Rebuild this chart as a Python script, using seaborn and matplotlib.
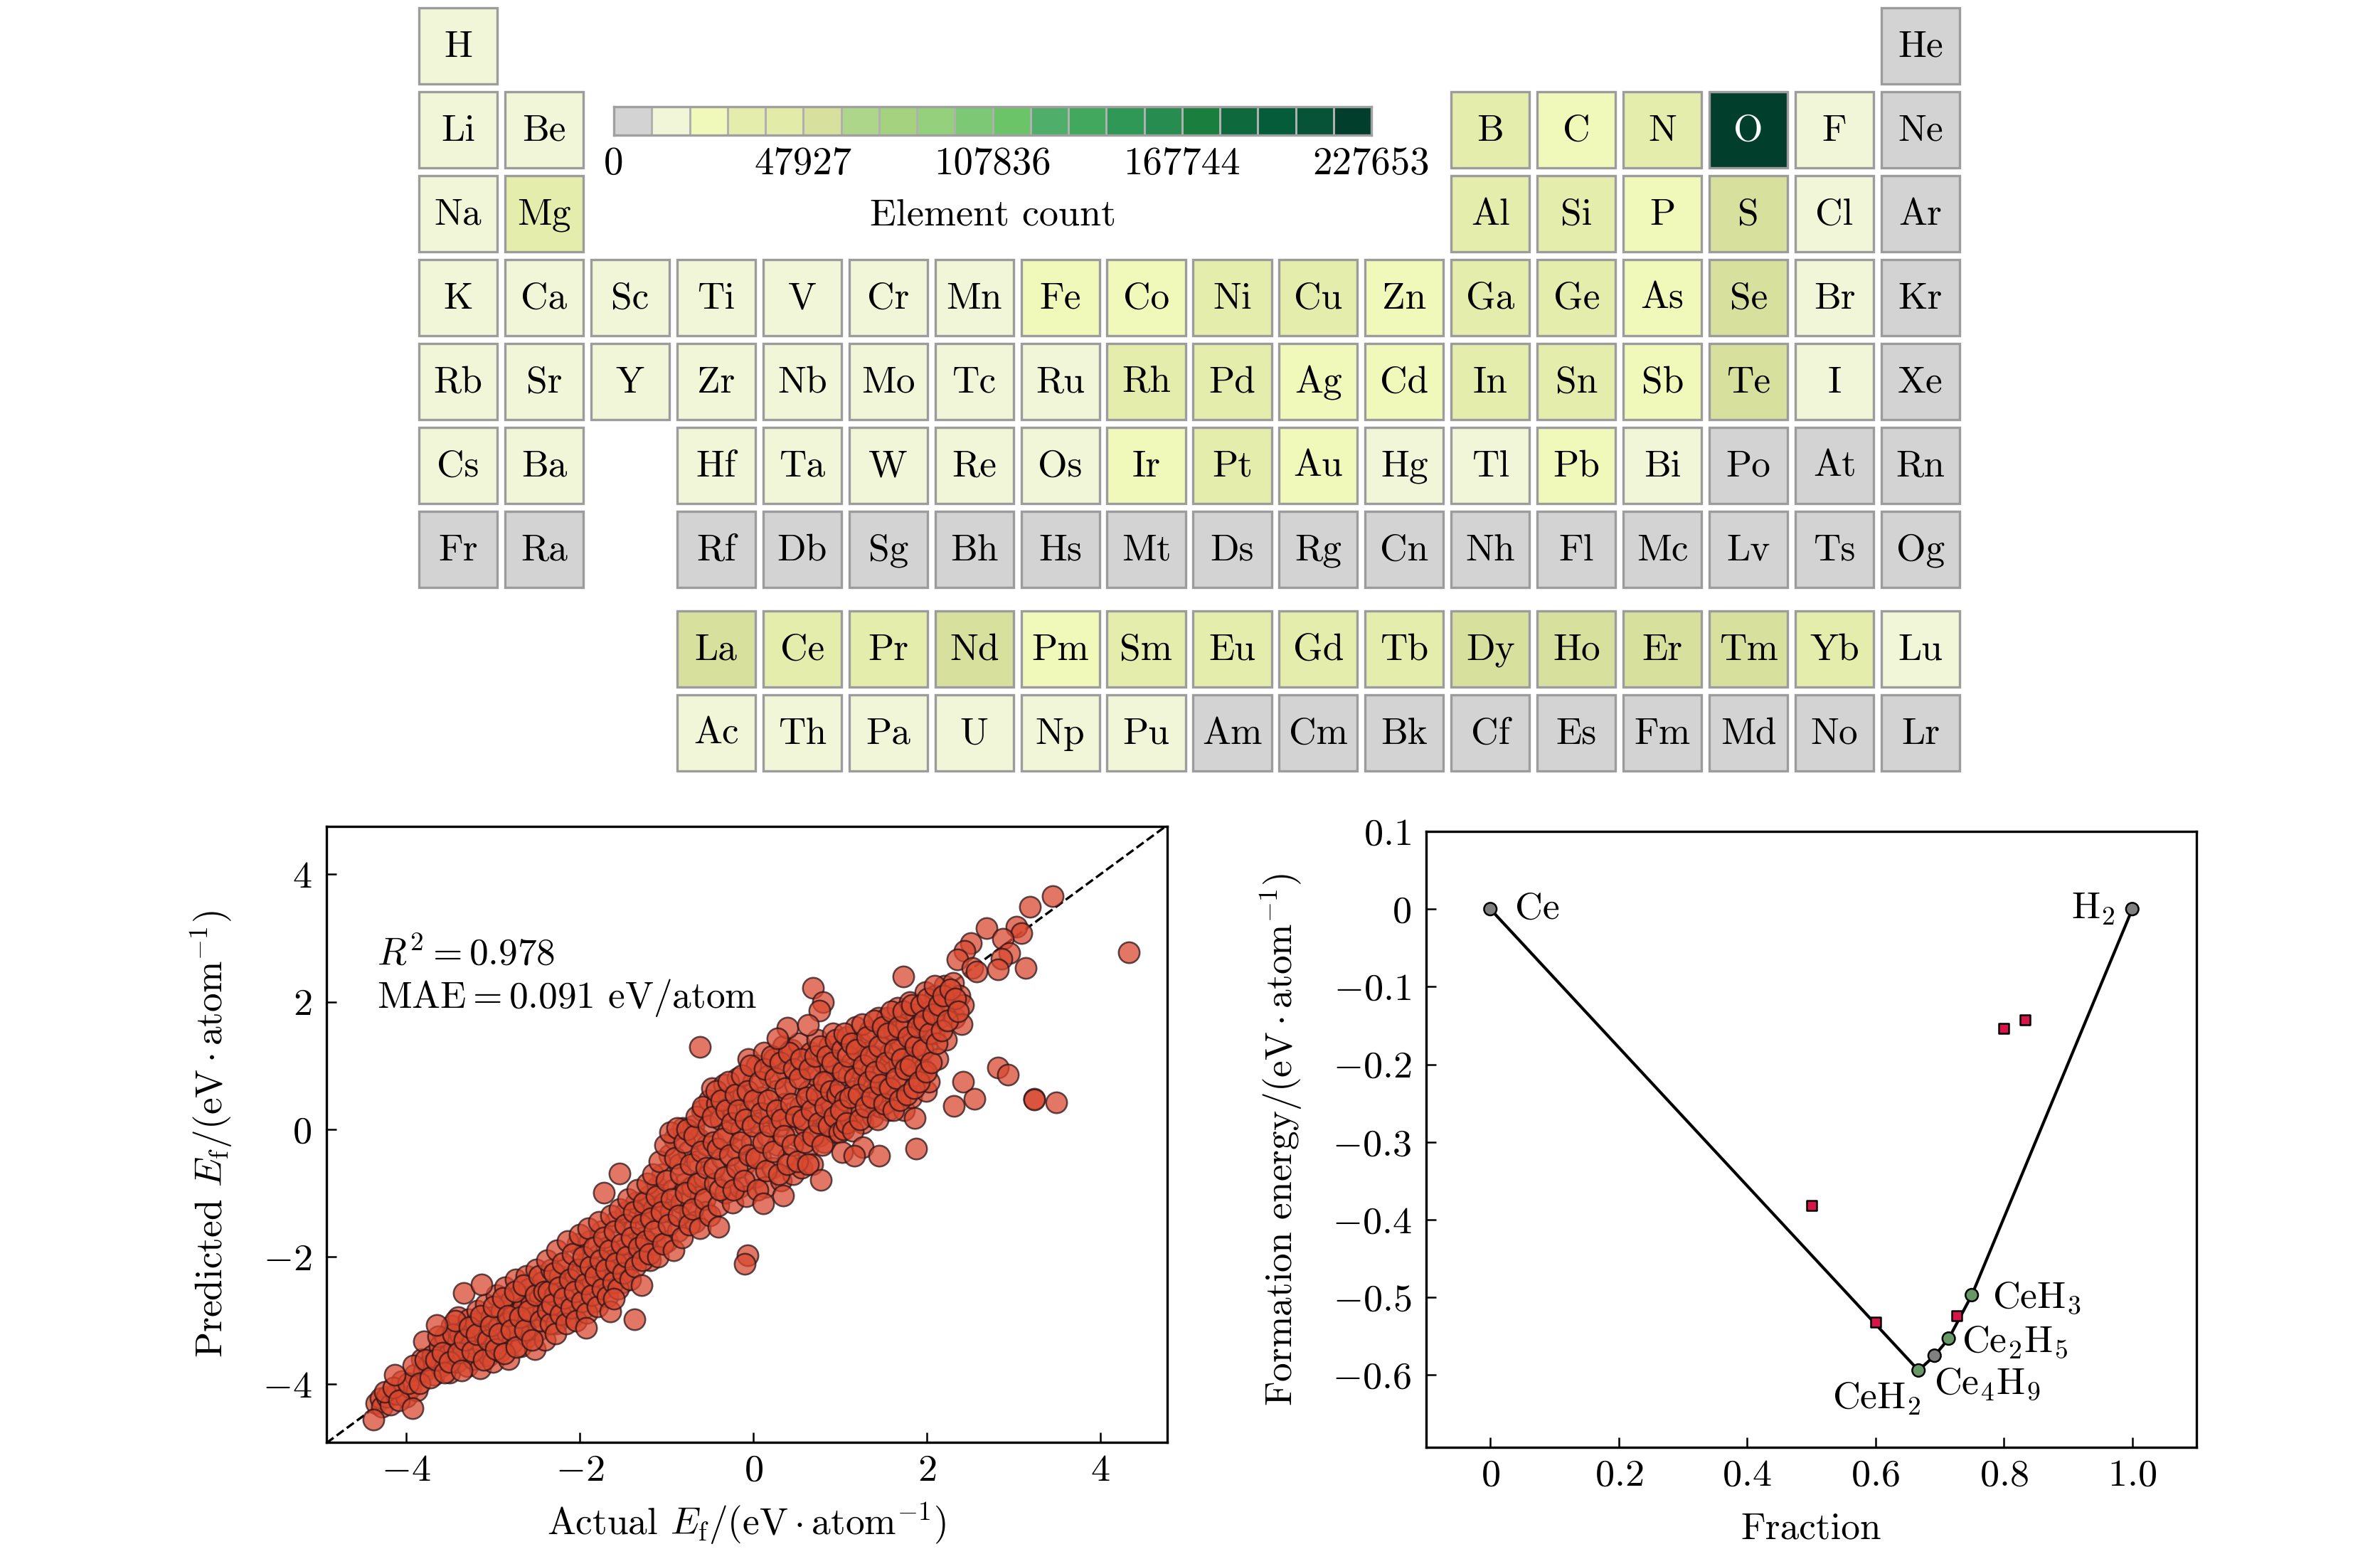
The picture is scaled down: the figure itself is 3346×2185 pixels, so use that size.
import numpy as np
import pandas as pd
import seaborn as sns
import matplotlib
matplotlib.use('Agg')
import matplotlib.pyplot as plt
from matplotlib.colors import ListedColormap, BoundaryNorm
from matplotlib.patches import Rectangle

W, H = 3346, 2185

# periodic table
symbols_main = [
    ['H', '', '', '', '', '', '', '', '', '', '', '', '', '', '', '', '', 'He'],
    ['Li', 'Be', '', '', '', '', '', '', '', '', '', '', 'B', 'C', 'N', 'O', 'F', 'Ne'],
    ['Na', 'Mg', '', '', '', '', '', '', '', '', '', '', 'Al', 'Si', 'P', 'S', 'Cl', 'Ar'],
    ['K', 'Ca', 'Sc', 'Ti', 'V', 'Cr', 'Mn', 'Fe', 'Co', 'Ni', 'Cu', 'Zn', 'Ga', 'Ge', 'As', 'Se', 'Br', 'Kr'],
    ['Rb', 'Sr', 'Y', 'Zr', 'Nb', 'Mo', 'Tc', 'Ru', 'Rh', 'Pd', 'Ag', 'Cd', 'In', 'Sn', 'Sb', 'Te', 'I', 'Xe'],
    ['Cs', 'Ba', '', 'Hf', 'Ta', 'W', 'Re', 'Os', 'Ir', 'Pt', 'Au', 'Hg', 'Tl', 'Pb', 'Bi', 'Po', 'At', 'Rn'],
    ['Fr', 'Ra', '', 'Rf', 'Db', 'Sg', 'Bh', 'Hs', 'Mt', 'Ds', 'Rg', 'Cn', 'Nh', 'Fl', 'Mc', 'Lv', 'Ts', 'Og'],
]
symbols_f = [
    ['', '', '', 'La', 'Ce', 'Pr', 'Nd', 'Pm', 'Sm', 'Eu', 'Gd', 'Tb', 'Dy', 'Ho', 'Er', 'Tm', 'Yb', 'Lu'],
    ['', '', '', 'Ac', 'Th', 'Pa', 'U', 'Np', 'Pu', 'Am', 'Cm', 'Bk', 'Cf', 'Es', 'Fm', 'Md', 'No', 'Lr'],
]
# counts, nan = no cell
n = np.nan
counts_main = [
    [9000, n, n, n, n, n, n, n, n, n, n, n, n, n, n, n, n, 0],
    [8000, 6000, n, n, n, n, n, n, n, n, n, n, 27000, 18000, 30000, 227653, 9000, 0],
    [9000, 30000, n, n, n, n, n, n, n, n, n, n, 28000, 29000, 16000, 52000, 8000, 0],
    [7000, 8000, 5000, 7000, 6000, 6000, 7000, 15000, 14000, 27000, 29000, 17000, 28000, 30000, 18000, 50000, 7000, 0],
    [6000, 7000, 6000, 6000, 7000, 7000, 2000, 8000, 25000, 26000, 14000, 15000, 28000, 29000, 16000, 50000, 8000, 0],
    [6000, 9000, n, 6000, 6000, 7000, 5000, 6000, 13000, 27000, 16000, 8000, 8000, 14000, 9000, 0, 0, 0],
    [0, 0, n, 0, 0, 0, 0, 0, 0, 0, 0, 0, 0, 0, 0, 0, 0, 0],
]
counts_f = [
    [n, n, n, 53000, 28000, 26000, 50000, 12000, 25000, 26000, 28000, 26000, 49000, 50000, 50000, 48000, 25000, 9000],
    [n, n, n, 2000, 4000, 1000, 5000, 1000, 1000, 0, 0, 0, 0, 0, 0, 0, 0, 0],
]

# colour scale
count_bounds = [0, 1, 11982, 23964, 35946, 47927, 59909, 71891, 83873, 95855, 107836,
                119818, 131800, 143782, 155764, 167744, 179726, 191708, 203690, 215672, 227654]
scale_colors = ['#d3d3d3', '#f2f6d8', '#f1f9ba', '#e5edac', '#e3eba8', '#d8e09e', '#add68a',
                '#a5d27e', '#95d07c', '#7cc874', '#6cc468', '#4fae69', '#41a85e', '#2f9856',
                '#278c50', '#1a7e3e', '#0e6a3c', '#045c3a', '#075338', '#013f2c']
scale_ticks = [0, 5, 10, 15, 20]
scale_labels = ['0', '47927', '107836', '167744', '227653']

# parity plot, values
parity_outliers = [
    (4.33, 2.78), (3.45, 3.66), (3.19, 3.49), (2.69, 3.15), (3.03, 3.18), (3.09, 3.08), (2.88, 2.99),
    (2.95, 2.77), (2.86, 2.68), (2.82, 2.51), (3.14, 2.53), (2.51, 2.92), (2.43, 2.8), (2.35, 2.66),
    (2.52, 2.53), (2.57, 2.47), (1.73, 2.40), (0.69, 2.22), (0.80, 1.99), (0.76, 1.86), (0.39, 1.59),
    (0.28, 1.43), (0.63, 1.64), (-0.62, 1.29), (2.82, 0.97), (2.93, 0.86), (2.42, 0.74), (2.55, 0.48),
    (2.31, 0.37), (3.24, 0.48), (3.24, 0.47), (3.49, 0.42), (1.88, -0.30), (1.02, -0.36), (1.26, -0.28),
    (1.16, -0.42), (1.45, -0.41), (0.78, -0.79), (0.34, -1.04), (0.11, -1.16), (-0.07, -1.98),
    (-0.10, -2.11), (-0.40, -1.53), (-1.54, -0.69), (-1.72, -0.99), (-1.29, -2.44), (-1.37, -2.98),
    (-1.65, -2.86), (-1.61, -2.66), (-1.93, -3.11), (-3.34, -2.57), (-3.13, -2.43), (-3.65, -3.07),
    (-4.13, -3.85), (-4.38, -4.55), (-3.93, -4.37),
]
parity_low = [
    (-4.35, -4.3), (-4.3, -4.22), (-4.28, -4.35), (-4.22, -4.2), (-4.18, -4.32), (-4.12, -4.15), (-4.05, -3.95),
    (-4.0, -4.2), (-3.95, -4.05), (-3.9, -3.85), (-3.88, -4.1), (-3.82, -3.6), (-3.8, -3.8), (-3.8, -3.33),
    (-3.75, -3.7), (-3.7, -3.55), (-3.68, -3.85), (-3.62, -3.4), (-3.6, -3.72), (-3.55, -3.25), (-3.52, -3.55),
    (-3.5, -3.82), (-3.48, -3.08), (-3.45, -3.4), (-3.42, -3.65), (-3.4, -2.95), (-3.38, -3.22),
    (-3.35, -3.5), (-3.32, -3.15), (-3.3, -3.72), (-3.28, -2.98), (-3.25, -3.35), (-3.22, -3.6), (-3.2, -3.05),
    (-3.18, -2.85), (-3.15, -3.75), (-3.12, -3.4), (-3.1, -3.2), (-3.08, -2.75), (-3.05, -3.55), (-3.02, -2.95),
    (-3.0, -3.65), (-2.98, -3.3), (-2.96, -2.6), (-2.94, -3.1), (-2.92, -3.48), (-2.9, -2.85), (-2.88, -3.25),
    (-2.86, -2.48), (-2.84, -3.05), (-2.82, -3.6), (-2.8, -2.7), (-2.78, -3.35), (-2.76, -2.9), (-2.74, -2.35),
    (-2.72, -3.15), (-2.7, -2.6), (-2.68, -3.4), (-2.66, -2.8), (-2.64, -3.0), (-2.62, -2.3), (-2.6, -3.25),
    (-2.58, -2.5), (-2.56, -2.72), (-2.54, -2.95), (-2.52, -3.45), (-2.5, -2.2), (-2.48, -3.15), (-2.46, -2.62),
    (-2.44, -2.4), (-2.42, -2.85), (-2.4, -3.3),
]
parity_low_extra = [
    (-4.25, -4.12), (-4.15, -4.05), (-4.08, -4.25), (-3.98, -3.98), (-3.92, -3.7), (-3.85, -3.98), (-3.78, -3.62),
    (-3.72, -3.9), (-3.66, -3.62), (-3.63, -3.25), (-3.58, -3.5), (-3.56, -3.82), (-3.5, -3.65), (-3.46, -3.22),
    (-3.44, -3.0), (-3.4, -3.5), (-3.36, -3.78), (-3.33, -3.3), (-3.27, -3.1), (-3.24, -3.48), (-3.19, -3.22),
    (-3.14, -2.92), (-3.11, -3.62), (-3.06, -3.3), (-3.03, -3.08), (-2.99, -2.78), (-2.97, -3.45), (-2.93, -3.2),
    (-2.89, -2.65), (-2.87, -3.52), (-2.83, -2.92), (-2.79, -3.15), (-2.75, -2.55), (-2.73, -3.42), (-2.69, -2.95),
    (-2.65, -2.45), (-2.63, -3.15), (-2.59, -2.85), (-2.55, -3.3), (-2.51, -2.6), (-2.47, -2.3), (-2.45, -3.0),
    (-2.41, -2.55), (-2.37, -2.85), (-2.33, -2.2), (-2.29, -2.6), (-2.27, -3.05), (-2.23, -2.3), (-2.19, -2.8),
    (-2.15, -2.15), (-2.13, -2.55), (-2.09, -2.95), (-2.05, -2.3), (-2.03, -1.8), (-1.99, -2.45), (-1.95, -2.8),
    (-1.93, -2.1), (-1.89, -1.75), (-1.85, -2.4), (-1.83, -2.7), (-1.79, -2.15), (-1.75, -1.6), (-1.73, -2.35),
    (-1.69, -1.85), (-1.67, -2.45), (-1.63, -2.05), (-1.59, -1.45), (-1.57, -2.3), (-1.53, -1.95), (-1.51, -2.4),
    (-1.47, -1.3), (-1.45, -1.8), (-1.41, -2.1), (-1.37, -1.55), (-1.35, -1.15), (-1.31, -1.95), (-1.27, -1.7),
    (-1.25, -1.35), (-1.21, -1.05), (-1.19, -2.05), (-1.15, -1.25), (-1.13, -1.8), (-1.11, -0.9), (-1.07, -1.55),
    (-1.05, -0.7), (-1.03, -1.15), (-0.99, -1.75), (-0.97, -0.4), (-0.95, -1.3), (-0.93, -0.95), (-0.91, -0.15),
    (-0.87, -1.6), (-0.85, -0.55), (-0.83, -1.15), (-0.81, 0.02), (-0.79, -0.85), (-0.75, -0.35), (-0.73, -1.3),
    (-0.71, -0.9), (-0.69, 0.05), (-0.67, -1.45), (-0.65, -0.5), (-0.63, -0.15), (-0.61, -1.05), (-0.59, 0.3),
    (-0.57, -0.75), (-0.55, -1.3), (-0.53, -0.25), (-0.51, 0.45),
]
parity_mid_low = [
    (-2.38, -2.05), (-2.36, -2.55), (-2.34, -3.05), (-2.32, -2.75), (-2.3, -2.25), (-2.28, -3.2), (-2.26, -1.9),
    (-2.24, -2.48), (-2.22, -2.9), (-2.2, -2.1), (-2.18, -2.65), (-2.16, -3.05), (-2.14, -1.75), (-2.12, -2.35),
    (-2.1, -2.8), (-2.08, -1.95), (-2.06, -2.55), (-2.04, -3.0), (-2.02, -2.2), (-2.0, -1.65), (-1.98, -2.7),
    (-1.96, -2.0), (-1.94, -2.42), (-1.92, -2.88), (-1.9, -1.55), (-1.88, -2.15), (-1.86, -2.6), (-1.84, -1.85),
    (-1.82, -2.3), (-1.8, -2.78), (-1.78, -1.45), (-1.76, -2.05), (-1.74, -2.5), (-1.72, -1.7), (-1.7, -2.2),
    (-1.68, -2.62), (-1.66, -1.9), (-1.64, -1.35), (-1.62, -2.4), (-1.6, -1.6), (-1.58, -2.1), (-1.56, -2.5),
    (-1.54, -1.25), (-1.52, -1.8), (-1.5, -2.25),
    (-1.48, -1.5), (-1.46, -2.0), (-1.44, -1.1), (-1.42, -2.35), (-1.4, -1.7), (-1.38, -1.3), (-1.36, -2.15),
    (-1.34, -0.95), (-1.32, -1.85), (-1.3, -1.5), (-1.28, -2.05), (-1.26, -1.15), (-1.24, -1.75), (-1.22, -0.85),
    (-1.2, -1.95), (-1.18, -1.4), (-1.16, -0.7), (-1.14, -1.6), (-1.12, -1.05), (-1.1, -2.0), (-1.08, -0.5),
    (-1.06, -1.3), (-1.04, -1.8), (-1.02, -0.25), (-1.0, -0.8), (-0.98, -1.5), (-0.96, -0.05), (-0.94, -1.1),
    (-0.92, -1.9), (-0.9, -0.45), (-0.88, 0.02), (-0.86, -1.35), (-0.84, -0.7), (-0.82, -1.7), (-0.8, -0.2),
    (-0.78, -1.0), (-0.76, 0.0), (-0.74, -1.5), (-0.72, -0.55), (-0.7, -1.25), (-0.68, -0.1), (-0.66, 0.2),
    (-0.64, -0.85), (-0.62, -1.55), (-0.6, -0.35), (-0.58, 0.35), (-0.56, -1.1), (-0.54, -0.6), (-0.52, 0.05),
    (-0.5, -1.35),
]
parity_mid = [
    (-0.48, 0.65), (-0.46, -0.2), (-0.44, -0.85), (-0.42, 0.4), (-0.4, -1.2), (-0.38, 0.15), (-0.36, -0.45),
    (-0.34, 0.7), (-0.32, -1.0), (-0.3, -0.05), (-0.28, 0.5), (-0.26, -0.7), (-0.24, -1.15), (-0.22, 0.25),
    (-0.2, -0.3), (-0.18, 0.8), (-0.16, -0.9), (-0.14, 0.0), (-0.12, 0.55), (-0.1, -0.55), (-0.08, -1.05),
    (-0.06, 1.1), (-0.04, 0.3), (-0.02, -0.2), (0.0, 0.75), (0.02, -0.75), (0.04, 1.0), (0.06, 0.1),
    (0.08, -0.45), (0.1, 0.5), (0.12, 1.2), (0.14, -0.9), (0.16, -0.1), (0.18, 0.85), (0.2, 0.25), (0.22, -0.6),
    (0.24, 1.1), (0.26, 0.6), (0.28, -0.25), (0.3, 0.05), (0.32, -0.8), (0.34, 1.3), (0.36, 0.4), (0.38, 0.9),
    (0.4, -0.45), (0.42, 0.15), (0.44, 1.25), (0.46, -0.7), (0.48, 0.7), (0.5, -0.1),
    (0.52, 1.35), (0.54, 0.35), (0.56, -0.6), (0.58, 1.0), (0.6, 0.05), (0.62, -0.3), (0.64, 0.6), (0.66, 1.2),
    (0.68, -0.55), (0.7, 0.25), (0.72, 0.85), (0.74, 1.4), (0.76, -0.1), (0.78, 0.5), (0.8, 1.05), (0.82, -0.2),
    (0.84, 0.15), (0.86, 0.75), (0.88, 1.3), (0.9, 0.4), (0.92, 1.5), (0.94, -0.05), (0.96, 0.95), (0.98, 0.25),
]
parity_mid_extra = [
    (-0.47, 0.2), (-0.45, -0.6), (-0.43, 0.6), (-0.41, -0.3), (-0.39, -0.95), (-0.37, 0.45), (-0.35, -0.15),
    (-0.33, -0.75), (-0.31, 0.3), (-0.29, 0.75), (-0.27, -0.4), (-0.25, 0.1), (-0.23, -0.95), (-0.21, 0.55),
    (-0.19, -0.6), (-0.17, 0.3), (-0.15, -0.2), (-0.13, 0.85), (-0.11, -0.8), (-0.09, 0.15), (-0.07, 0.6),
    (-0.05, -0.4), (-0.03, 1.0), (-0.01, 0.05), (0.01, 0.45), (0.03, -0.45), (0.05, -0.95), (0.07, 0.75),
    (0.09, 0.25), (0.11, -0.2), (0.13, 0.95), (0.15, -0.65), (0.17, 0.45), (0.19, 0.05), (0.21, 1.15), (0.23, -0.35),
    (0.25, 0.8), (0.27, 0.3), (0.29, -0.7), (0.31, 1.05), (0.33, 0.15), (0.35, -0.1), (0.37, 0.65), (0.39, -0.55),
    (0.41, 1.2), (0.43, 0.4), (0.45, -0.25), (0.47, 0.95), (0.49, 0.2), (0.51, -0.5), (0.53, 0.8), (0.55, 1.1),
    (0.57, 0.15), (0.59, -0.2), (0.61, 0.5), (0.63, -0.55), (0.65, 0.95), (0.67, 0.3), (0.69, -0.1), (0.71, 1.15),
    (0.73, 0.55), (0.75, 0.1), (0.77, 1.3), (0.79, -0.25), (0.81, 0.75), (0.83, 0.35), (0.85, 1.15), (0.87, 0.05),
    (0.89, 0.6), (0.91, 1.05), (0.93, 0.2), (0.95, 1.4), (0.97, 0.55), (0.99, -0.05),
]
parity_high = [
    (1.0, 0.65), (1.02, 1.25), (1.04, 0.0), (1.06, 0.45), (1.08, 1.45), (1.1, 0.85), (1.12, 0.15), (1.14, 1.05),
    (1.16, 0.6), (1.18, 1.6), (1.2, 0.3), (1.22, 0.95), (1.24, 1.35), (1.26, 0.1), (1.28, 0.7), (1.3, 1.2),
    (1.32, 0.45), (1.34, 1.55), (1.36, 0.9), (1.38, 0.2), (1.4, 1.15), (1.42, 0.6), (1.44, 1.75), (1.46, 0.35),
    (1.48, 1.0), (1.5, 1.4), (1.52, 0.7), (1.54, 1.75), (1.56, 0.3), (1.58, 1.2), (1.6, 0.9), (1.62, 1.55),
    (1.64, 0.5), (1.66, 1.9), (1.68, 1.05), (1.7, 1.35), (1.72, 0.75), (1.74, 0.3), (1.76, 1.65), (1.78, 1.15),
    (1.8, 2.0), (1.82, 0.5), (1.84, 1.45), (1.86, 0.85), (1.88, 1.8), (1.9, 1.1), (1.86, 0.18), (1.94, 1.6),
    (1.96, 0.95), (1.98, 2.15), (2.0, 1.3), (1.99, 0.6), (2.04, 1.85), (2.02, 0.75), (2.08, 1.5), (2.1, 2.1),
    (2.12, 1.1), (2.15, 1.75), (2.2, 2.25), (2.22, 1.4), (2.25, 2.0), (2.3, 2.3), (2.32, 1.75), (2.38, 2.1),
    (2.42, 1.95), (2.4, 1.65),
]
parity_high_extra = [
    (1.01, 0.3), (1.03, 0.9), (1.05, 1.5), (1.07, 0.1), (1.09, 1.15), (1.11, 0.5), (1.13, 1.35), (1.15, -0.02),
    (1.17, 0.8), (1.19, 1.25), (1.21, 0.55), (1.23, 0.15), (1.25, 1.65), (1.27, 1.0), (1.29, 0.35), (1.31, 1.45),
    (1.33, 0.75), (1.35, 1.15), (1.37, 0.5), (1.39, 1.7), (1.41, 0.9), (1.43, 0.15), (1.45, 1.3), (1.47, 0.7),
    (1.49, 1.6), (1.51, 0.4), (1.53, 1.05), (1.55, 1.5), (1.57, 0.65), (1.59, 1.85), (1.61, 0.3), (1.63, 1.25),
    (1.65, 0.8), (1.67, 1.6), (1.69, 0.45), (1.71, 1.1), (1.73, 1.85), (1.75, 0.95), (1.77, 0.55), (1.79, 1.45),
    (1.81, 1.0), (1.83, 1.95), (1.85, 0.65), (1.87, 1.3), (1.89, 1.6), (1.91, 0.75), (1.93, 1.95), (1.95, 1.25),
    (1.97, 1.7), (1.99, 0.9), (2.01, 2.05), (2.03, 1.5), (2.05, 1.05), (2.07, 1.8), (2.09, 2.25), (2.11, 1.35),
    (2.14, 1.95), (2.17, 1.55), (2.19, 2.1), (2.24, 1.7), (2.27, 2.2), (2.33, 2.05), (2.36, 1.85),
]
parity_xticks = [-4, -2, 0, 2, 4]
parity_ticklabels = ['$-4$', '$-2$', '$0$', '$2$', '$4$']

# convex hull plot
hull_fraction = [0, 0.667, 0.692, 0.714, 0.75, 1.0]
hull_energy = [0, -0.594, -0.575, -0.553, -0.497, 0]
hull_kind = ['gray', 'green', 'gray', 'green', 'green', 'gray']
above_fraction = [0.5, 0.6, 0.727, 0.8, 0.833]
above_energy = [-0.382, -0.532, -0.524, -0.154, -0.143]
hull_xticks = [0, 0.2, 0.4, 0.6, 0.8, 1.0]
hull_xticklabels = ['$0$', '$0.2$', '$0.4$', '$0.6$', '$0.8$', '$1.0$']
hull_yticks = [0.1, 0, -0.1, -0.2, -0.3, -0.4, -0.5, -0.6]
hull_yticklabels = ['$0.1$', '$0$', '$-0.1$', '$-0.2$', '$-0.3$', '$-0.4$', '$-0.5$', '$-0.6$']
phase_names = ['Ce', r'$\mathrm{H_2}$', r'$\mathrm{CeH_3}$', r'$\mathrm{Ce_2H_5}$', r'$\mathrm{Ce_4H_9}$', r'$\mathrm{CeH_2}$']
phase_x = [0.0386, 0.973, 0.782, 0.734, 0.691, 0.533]
phase_y = [0, 0, -0.5, -0.557, -0.611, -0.631]
phase_ha = ['left', 'right', 'left', 'left', 'left', 'left']


def pxAxes(fig, left, top, right, bottom):
    return fig.add_axes([left / W, 1 - bottom / H, (right - left) / W, (bottom - top) / H])


def cellBoxes(ax, symbols, gapX, gapY):
    # thin gray box inside the white gap of every cell
    for r, row in enumerate(symbols):
        for c, s in enumerate(row):
            if s:
                ax.add_patch(Rectangle((c + gapX, r + gapY), 1 - 2 * gapX, 1 - 2 * gapY, fill=False,
                                       edgecolor='#9c9c9c', linewidth=0.8, zorder=3))


def drawTable(ax, symbols, counts, cmap, norm):
    df = pd.DataFrame(counts, dtype=float)
    sns.heatmap(df, mask=df.isna(), annot=np.array(symbols), fmt='', cmap=cmap, norm=norm, cbar=False,
                linewidths=2.6, linecolor='white', xticklabels=False, yticklabels=False, ax=ax,
                annot_kws={'fontsize': 12.8})
    for t in ax.texts:
        t.set_color('white' if t.get_color() == 'w' else 'black')
        x, y = t.get_position()
        t.set_position((x, y + 0.015))
    cellBoxes(ax, symbols, 5.4 / 120.9, 5.5 / 118)


def styleAxes(ax):
    for s in ax.spines.values():
        s.set_visible(True)
        s.set_linewidth(0.8)
        s.set_color('black')
    ax.tick_params(direction='in', length=3.4, width=0.6, labelsize=13, pad=5, top=False, right=False)
    ax.tick_params(axis='x', pad=4)


def labelAt(ax, xlabel, ylabel, xPix, yPix, box):
    left, top, right, bottom = box
    ax.set_xlabel(xlabel, fontsize=12.8)
    ax.set_ylabel(ylabel, fontsize=12.8)
    ax.xaxis.set_label_coords(0.5, (bottom - xPix) / (bottom - top))
    ax.yaxis.set_label_coords((yPix - left) / (right - left), 0.5)


def main():
    sns.set_theme(style='ticks')
    plt.rcParams['font.family'] = ['cmr10', 'DejaVu Sans']
    plt.rcParams['mathtext.fontset'] = 'cm'
    plt.rcParams['axes.unicode_minus'] = False
    plt.rcParams['axes.formatter.use_mathtext'] = True
    plt.rcParams.update({'text.color': 'black', 'axes.labelcolor': 'black', 'xtick.color': 'black', 'ytick.color': 'black'})

    fig = plt.figure(figsize=(W / 300, H / 300), dpi=300)
    cmap = ListedColormap(scale_colors)
    norm = BoundaryNorm(count_bounds, ncolors=20)

    # periodic table in two blocks
    axMain = pxAxes(fig, 583.5, 5.5, 2760.5, 831.5)
    drawTable(axMain, symbols_main, counts_main, cmap, norm)
    axF = pxAxes(fig, 583.5, 853.5, 2760.5, 1089.5)
    drawTable(axF, symbols_f, counts_f, cmap, norm)

    # colour scale strip
    axBar = pxAxes(fig, 863, 150, 1928, 190)
    sns.heatmap(pd.DataFrame([count_bounds[:-1]], dtype=float), cmap=cmap, norm=norm, cbar=False,
                linewidths=0.25, linecolor='#b0b0b0', yticklabels=False, ax=axBar)
    axBar.set_xticks(scale_ticks, labels=scale_labels, rotation=0)
    axBar.tick_params(axis='x', length=0, labelsize=13.2, pad=4)
    axBar.set_xlabel('Element count', fontsize=13)
    axBar.xaxis.set_label_coords(0.5, -2.27)
    for s in axBar.spines.values():
        s.set_visible(True)
        s.set_color('#a0a0a0')
        s.set_linewidth(0.8)

    # parity plot
    boxL = (459, 1162, 1641, 2028)
    axL = pxAxes(fig, *boxL)
    pts = parity_low + parity_low_extra + parity_mid_low + parity_mid + parity_mid_extra + parity_high \
        + parity_high_extra + parity_outliers
    dfPts = pd.DataFrame(pts, columns=['actual', 'predicted'])
    limL = (-4.92, 4.77)
    sns.lineplot(x=limL, y=limL, color='black', linestyle='--', linewidth=0.8, ax=axL, zorder=1)
    sns.scatterplot(data=dfPts, x='actual', y='predicted', color='#d9482f', edgecolor='#2a1418', linewidth=0.6,
                    alpha=0.74, s=50, legend=False, ax=axL, zorder=2)
    axL.set_xlim(limL)
    axL.set_ylim(-4.91, 4.75)
    axL.set_xticks(parity_xticks, labels=parity_ticklabels)
    axL.set_yticks(parity_xticks, labels=parity_ticklabels)
    styleAxes(axL)
    labelAt(axL, r'Actual $E_{\mathrm{f}}/(\mathrm{eV}\cdot\mathrm{atom}^{-1})$',
            r'Predicted $E_{\mathrm{f}}/(\mathrm{eV}\cdot\mathrm{atom}^{-1})$', 2111, 330, boxL)
    axL.text(0.06, 0.793, r'$R^2 = 0.978$', transform=axL.transAxes, fontsize=12.8, va='center')
    axL.text(0.06, 0.722, r'$\mathrm{MAE} = 0.091$ eV/atom', transform=axL.transAxes, fontsize=12.8, va='center')

    # convex hull plot
    boxR = (2005, 1169, 3088, 2035)
    axR = pxAxes(fig, *boxR)
    dfHull = pd.DataFrame({'fraction': hull_fraction, 'energy': hull_energy, 'kind': hull_kind})
    dfAbove = pd.DataFrame({'fraction': above_fraction, 'energy': above_energy})
    sns.lineplot(data=dfHull, x='fraction', y='energy', sort=False, estimator=None, color='black', linewidth=1.0,
                 ax=axR, zorder=1)
    sns.scatterplot(data=dfAbove, x='fraction', y='energy', marker='s', color='#d8154b', edgecolor='black',
                    linewidth=0.6, s=12, legend=False, ax=axR, zorder=3)
    sns.scatterplot(data=dfHull, x='fraction', y='energy', hue='kind', palette={'gray': '#808080', 'green': '#669966'},
                    edgecolor='black', linewidth=0.6, s=18, legend=False, ax=axR, zorder=4)
    axR.set_xlim(-0.1, 1.1)
    axR.set_ylim(-0.693, 0.1)
    axR.set_xticks(hull_xticks, labels=hull_xticklabels)
    axR.set_yticks(hull_yticks, labels=hull_yticklabels)
    styleAxes(axR)
    labelAt(axR, 'Fraction', r'Formation energy$/(\mathrm{eV}\cdot\mathrm{atom}^{-1})$', 2127, 1834, boxR)
    for name, x, y, ha in zip(phase_names, phase_x, phase_y, phase_ha):
        axR.text(x, y, name, fontsize=12.9, ha=ha, va='center')

    fig.savefig('out.png', dpi=300, facecolor='white')


if __name__ == "__main__":
    main()
